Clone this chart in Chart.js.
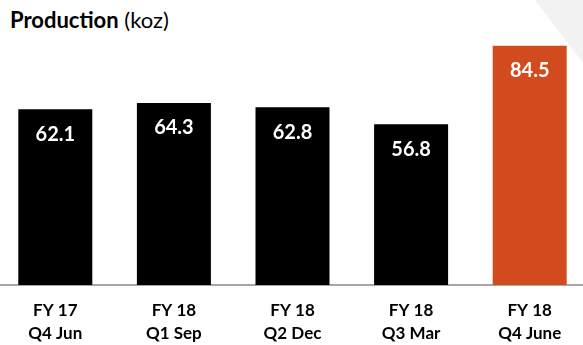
<!DOCTYPE html>
<html>
<head>
<meta charset="utf-8">
<script src="https://cdn.jsdelivr.net/npm/chart.js@4"></script>
<style>
  body { margin: 0; background: #fff; overflow: hidden; }
  #wrap { position: relative; width: 583px; height: 345px; overflow: hidden; }
  #corner { position: absolute; left: 0; top: 0; width: 583px; height: 345px;
    background: #f2f2f2; clip-path: polygon(535px 0, 583px 0, 583px 63px); }
  #title { position: absolute; left: 10px; top: 6px; font-family: Lato, sans-serif;
    font-size: 22px; color: #000; white-space: nowrap; }
  #title b { font-weight: 700; }
  #box { position: absolute; left: -4px; top: 0; width: 593px; height: 345px; }
</style>
</head>
<body>
<div id="wrap">
  <div id="corner"></div>
  <div id="title"><b>Production</b> (koz)</div>
  <div id="box"><canvas id="production"></canvas></div>
</div>
<script>
var quarters = [["FY 17", "Q4 Jun"], ["FY 18", "Q1 Sep"], ["FY 18", "Q2 Dec"], ["FY 18", "Q3 Mar"], ["FY 18", "Q4 June"]];
var production = [62.1, 64.3, 62.8, 56.8, 84.5];
var barColors = ["#000000", "#000000", "#000000", "#000000", "#d14b1e"];

// white value inside the top of each bar
var valueLabels = {
    id: 'valueLabels',
    afterDatasetsDraw: function(chart) {
        var ctx = chart.ctx;
        var meta = chart.getDatasetMeta(0);
        ctx.save();
        ctx.fillStyle = '#ffffff';
        ctx.font = 'bold 20px Lato';
        ctx.textAlign = 'center';
        ctx.textBaseline = 'middle';
        meta.data.forEach(function(bar, i) {
            ctx.fillText(production[i].toFixed(1), bar.x, bar.y + 25);
        });
        ctx.restore();
    }
};

var ctx = document.getElementById('production').getContext('2d');
var chart = new Chart(ctx, {
    type: 'bar',
    data: {
        labels: quarters,
        datasets: [{
            label: "Production",
            data: production,
            backgroundColor: barColors,
            barPercentage: 0.624,
            categoryPercentage: 1
        }]
    },
    options: {
        responsive: true,
        maintainAspectRatio: false,
        animation: false,
        layout: { padding: { top: 16, left: 0, right: 0, bottom: 0 } },
        plugins: {
            legend: { display: false },
            tooltip: { enabled: false }
        },
        scales: {
            x: {
                grid: { display: false, drawTicks: false },
                border: { display: true, color: '#a6a6a6', width: 2 },
                ticks: {
                    color: '#000',
                    padding: 14,
                    font: { family: 'Lato', size: 17, weight: 'bold', lineHeight: 1.35 }
                },
                afterFit: function(scale) { scale.height = 60; }
            },
            y: {
                display: false,
                min: 0,
                max: 95
            }
        }
    },
    plugins: [valueLabels]
});
</script>
</body>
</html>
